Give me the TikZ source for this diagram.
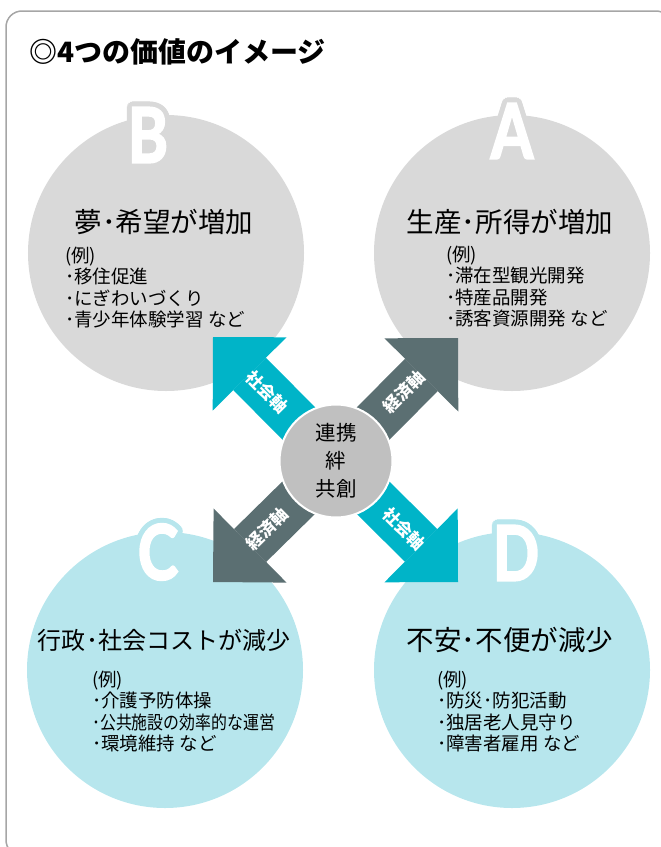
\documentclass[tikz,border=0pt]{standalone}
\usepackage{fontspec}
\setmainfont{Noto Sans CJK JP}
\newfontfamily\letterfont{Lato}[FakeBold=3]
\usetikzlibrary{arrows.meta}

\definecolor{valgray}{HTML}{D9D9D9}
\definecolor{valblue}{HTML}{B7E6ED}
\definecolor{socteal}{HTML}{00B4C8}
\definecolor{ecoslate}{HTML}{5B6F72}
\definecolor{coregray}{HTML}{C0C0C0}
\definecolor{framegray}{HTML}{A6A6A6}

\begin{document}
\begin{tikzpicture}[x=1bp,y=-1bp]
    \tikzstyle{every node}=[inner sep=0pt]
    \tikzstyle{valcircle}=[circle,minimum size=276bp]
    \tikzstyle{bigletter}=[font=\letterfont\bfseries\fontsize{76bp}{76bp}\selectfont,text=white]
    \tikzstyle{heading}=[font=\fontsize{27.5bp}{30bp}\selectfont]
    \tikzstyle{exlist}=[anchor=north west,align=left,font=\fontsize{18.5bp}{21.3bp}\selectfont]
    \tikzstyle{axisarrow}=[line width=46bp,-{Triangle[length=52bp 0 0,width=104bp 0 0,line width=0pt 0 0]}]
    \tikzstyle{axislabel}=[sloped,text=white,font=\bfseries\fontsize{17bp}{20bp}\selectfont]

    \useasboundingbox (0,0) rectangle (661,847);

    %% Frame and title
    \draw[framegray,line width=1.5bp,rounded corners=16bp] (6,11) rectangle (672,856);
    \node[anchor=west,font=\bfseries\fontsize{28bp}{30bp}\selectfont] (title) at (29,52) {◎4つの価値のイメージ};

    %% Four value circles
    \node[valcircle,fill=valgray] (circB) at (166,253) {};
    \node[valcircle,fill=valgray] (circA) at (512,253) {};
    \node[valcircle,fill=valblue] (circC) at (165,670) {};
    \node[valcircle,fill=valblue] (circD) at (512,670) {};

    %% Letters, rimmed in the circle colour
    \foreach \a in {0,22.5,...,337.5} {
        \node[bigletter,text=valgray,shift={(\a:5bp)}] at (148,135) {\scalebox{0.8}[1]{B}};
        \node[bigletter,text=valgray,shift={(\a:5bp)}] at (512,131) {\scalebox{0.8}[1]{A}};
        \node[bigletter,text=valblue,shift={(\a:5bp)}] at (158,552) {\scalebox{0.8}[1]{C}};
        \node[bigletter,text=valblue,shift={(\a:5bp)}] at (516,553) {\scalebox{0.8}[1]{D}};
    }
    \node[bigletter] (letB) at (148,135) {\scalebox{0.8}[1]{B}};
    \node[bigletter] (letA) at (512,131) {\scalebox{0.8}[1]{A}};
    \node[bigletter] (letC) at (158,552) {\scalebox{0.8}[1]{C}};
    \node[bigletter] (letD) at (516,553) {\scalebox{0.8}[1]{D}};

    %% Headings and examples
    \node[heading] (headB) at (164,222) {夢･希望が増加};
    \node[heading] (headA) at (510,222) {生産･所得が増加};
    \node[heading,font=\fontsize{24bp}{28bp}\selectfont] (headC) at (164,640) {行政･社会コストが減少};
    \node[heading] (headD) at (510,640) {不安･不便が減少};

    \node[exlist] (listB) at (65,247) {(例)\\･移住促進\\･にぎわいづくり\\･青少年体験学習 など};
    \node[exlist] (listA) at (446,246) {(例)\\･滞在型観光開発\\･特産品開発\\･誘客資源開発 など};
    \node[exlist] (listC) at (92,671) {(例)\\･介護予防体操\\\scalebox{0.86}[1]{･公共施設の効率的な運営}\\･環境維持 など};
    \node[exlist] (listD) at (437,671) {(例)\\･防災･防犯活動\\･独居老人見守り\\･障害者雇用 など};

    %% Axis arrows out of the hub
    \coordinate (hub) at (336,461);
    \coordinate (tipB) at (213,337);
    \coordinate (tipA) at (458,338);
    \coordinate (tipC) at (213,582);
    \coordinate (tipD) at (458,582);

    \draw[axisarrow,socteal] (hub) -- node[axislabel,pos=0.56] (socB) {社会軸} (tipB);
    \draw[axisarrow,ecoslate] (hub) -- node[axislabel,pos=0.56] (ecoA) {経済軸} (tipA);
    \draw[axisarrow,ecoslate] (hub) -- node[axislabel,pos=0.56] (ecoC) {経済軸} (tipC);
    \draw[axisarrow,socteal] (hub) -- node[axislabel,pos=0.56] (socD) {社会軸} (tipD);

    % Hub circle on top
    \node[circle,fill=coregray,draw=white,line width=2bp,minimum size=113bp,
          align=center,font=\fontsize{20.5bp}{28bp}\selectfont] (core) at (hub) {連携\\絆\\共創};
\end{tikzpicture}
\end{document}
